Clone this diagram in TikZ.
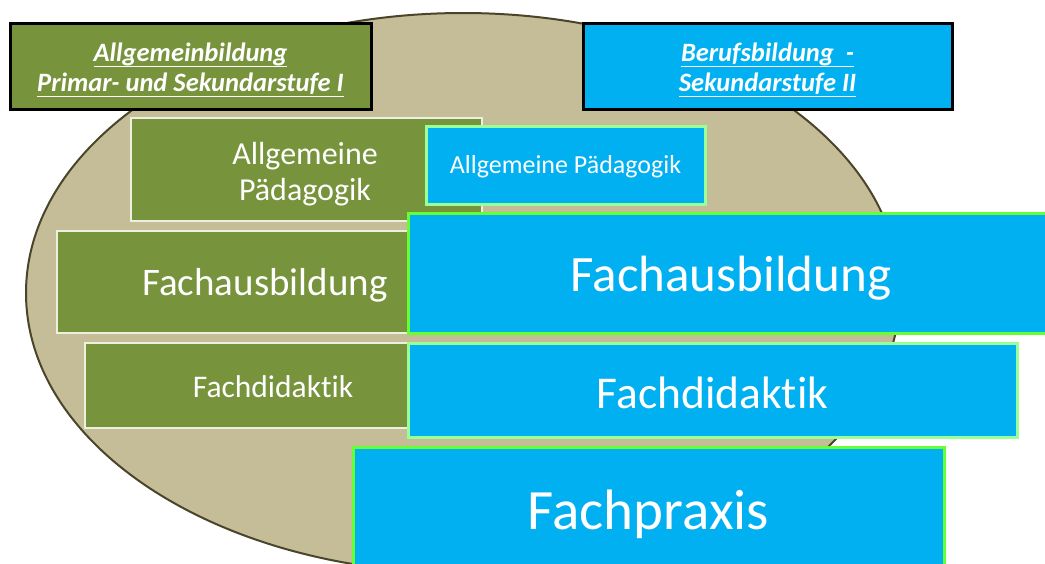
\documentclass[tikz,border=0pt]{standalone}
\usepackage{fontspec}
\setmainfont{Carlito}[Ligatures=NoCommon]
\definecolor{tanfill}{RGB}{196,189,151}
\definecolor{tanline}{RGB}{74,69,42}
\definecolor{olive}{RGB}{119,147,60}
\definecolor{skyblue}{RGB}{0,176,240}
\definecolor{creamline}{RGB}{235,241,222}
\definecolor{palegreen}{RGB}{153,255,153}
\definecolor{brightgreen}{RGB}{102,255,51}
\newcommand\ulx[1]{\underline{\raisebox{0pt}[\height][0.12em]{#1}}}
\tikzset{
  hdr/.style={draw=black, line width=3pt, inner sep=0pt},
  hdrtext/.style={text=white, align=center, inner sep=0pt,
    font=\fontsize{26.5}{30}\selectfont\bfseries\itshape},
  gbox/.style={draw=creamline, fill=olive, line width=2.5pt, inner sep=0pt},
  bbox/.style={fill=skyblue, line width=3pt, inner sep=0pt},
  lbl/.style={text=white, align=center, inner sep=0pt}
}
\begin{document}
\begin{tikzpicture}[x=1pt,y=-1pt]
\useasboundingbox (0,0) rectangle (1045,563);
\draw[fill=tanfill, draw=tanline, line width=2pt] (463,293) ellipse [x radius=437, y radius=280];
% headers
\node[hdr, fill=olive, minimum width=361pt, minimum height=86pt] (hg) at (190.5,66) {};
\node[hdrtext] (hgt) at (190.5,70)
  {\ulx{Allgemeinbildung}\\\ulx{Primar- und Sekundarstufe I}};
\node[hdr, fill=skyblue, minimum width=369pt, minimum height=86pt] (hb) at (767.5,66) {};
\node[hdrtext] (hbt) at (767.5,70)
  {\ulx{Berufsbildung~~-}\\\ulx{Sekundarstufe II}};
% green boxes
\node[gbox, minimum width=351pt, minimum height=103pt] (gap) at (306.5,169.5) {};
\node[lbl, font=\fontsize{32}{36}\selectfont] (gapt) at (305,174) {Allgemeine\\Pädagogik};
\node[gbox, minimum width=363pt, minimum height=102pt] (gfa) at (238.5,282) {};
\node[lbl, font=\fontsize{39}{44}\selectfont] (gfat) at (265,285) {Fachausbildung};
\node[gbox, minimum width=335pt, minimum height=85pt] (gfd) at (252.5,385.5) {};
\node[lbl, font=\fontsize{31.5}{36}\selectfont] (gfdt) at (273,387) {Fachdidaktik};
% blue boxes
\node[bbox, draw=palegreen, minimum width=279pt, minimum height=78pt] (bap) at (565.5,165) {};
\node[lbl, font=\fontsize{26}{30}\selectfont] (bapt) at (565.5,167) {Allgemeine Pädagogik};
\node[bbox, draw=brightgreen, minimum width=646pt, minimum height=120pt] (bfa) at (731,273) {};
\node[lbl, font=\fontsize{51}{60}\selectfont] (bfat) at (731,278) {Fachausbildung};
\node[bbox, draw=palegreen, minimum width=609pt, minimum height=94pt] (bfd) at (712.5,390) {};
\node[lbl, font=\fontsize{45.5}{52}\selectfont] (bfdt) at (712.5,393) {Fachdidaktik};
\node[bbox, draw=brightgreen, minimum width=591pt, minimum height=126pt] (bfp) at (648.5,510) {};
\node[lbl, font=\fontsize{57}{66}\selectfont] (bfpt) at (648.5,514) {Fachpraxis};
\end{tikzpicture}
\end{document}
